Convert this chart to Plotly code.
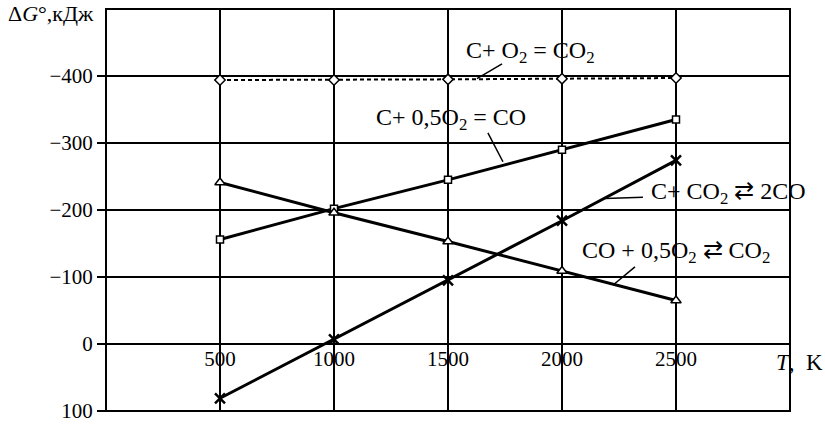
import plotly.graph_objects as go

# ---- data ----
T = [500, 1000, 1500, 2000, 2500]
dG_C_O2 = [-394, -394, -395, -396, -397]        # C + O2 = CO2
dG_C_halfO2 = [-156, -202, -245, -290, -335]    # C + 0,5O2 = CO
dG_CO_halfO2 = [-241, -196, -153, -109, -65]    # CO + 0,5O2 <-> CO2
dG_C_CO2 = [81, -7, -95, -184, -274]            # C + CO2 <-> 2CO

x_tick_vals = [500, 1000, 1500, 2000, 2500]
x_tick_text = ["500", "1000", "1500", "2000", "2500"]
y_tick_vals = [-400, -300, -200, -100, 0, 100]
y_tick_text = ["\u2212400", "\u2212300", "\u2212200", "\u2212100", "0", "100"]

labels = {
    "C_O2": "C+ O<sub>2</sub> = CO<sub>2</sub>",
    "C_halfO2": "C+ 0,5O<sub>2</sub> = CO",
    "C_CO2": "C+ CO<sub>2</sub> \u21c4 2CO",
    "CO_halfO2": "CO + 0,5O<sub>2</sub> \u21c4 CO<sub>2</sub>",
}

FONT = "Liberation Serif, Times New Roman, serif"
BLACK = "#000000"

fig = go.Figure()

fig.add_trace(go.Scatter(
    x=T, y=dG_C_O2, mode="lines+markers",
    line=dict(color=BLACK, width=2, dash="4px,3px"),
    marker=dict(symbol="diamond", size=8, color="white", line=dict(color=BLACK, width=1.5)),
))
fig.add_trace(go.Scatter(
    x=T, y=dG_C_halfO2, mode="lines+markers",
    line=dict(color=BLACK, width=3),
    marker=dict(symbol="square", size=7, color="white", line=dict(color=BLACK, width=1.5)),
))
fig.add_trace(go.Scatter(
    x=T, y=dG_CO_halfO2, mode="lines+markers",
    line=dict(color=BLACK, width=3),
    marker=dict(symbol="triangle-up", size=9, color="white", line=dict(color=BLACK, width=1.5)),
))
fig.add_trace(go.Scatter(
    x=T, y=dG_C_CO2, mode="lines+markers",
    line=dict(color=BLACK, width=3),
    marker=dict(symbol="x-thin", size=10, color=BLACK, line=dict(color=BLACK, width=2.5)),
))

# border of the plotting area
fig.add_shape(type="rect", xref="paper", yref="paper", x0=0, y0=0, x1=1, y1=1,
              line=dict(color=BLACK, width=2), layer="above")

# leader lines from labels to curves
leaders = [
    (1737, -418, 1627, -396),
    (1675, -315, 1741, -272),
    (2189, -217, 2355, -219),
    (2224, -88, 2320, -115),
]
for x0, y0, x1, y1 in leaders:
    fig.add_shape(type="line", xref="x", yref="y", x0=x0, y0=y0, x1=x1, y1=y1,
                  line=dict(color=BLACK, width=1.5))

label_pos = [
    ("C_O2", 1860, -436),
    ("C_halfO2", 1513, -336),
    ("C_CO2", 2732, -226),
    ("CO_halfO2", 2500, -137),
]
for key, x, y in label_pos:
    fig.add_annotation(x=x, y=y, xref="x", yref="y", text=labels[key], showarrow=False,
                       font=dict(family=FONT, size=24, color=BLACK),
                       xanchor="center", yanchor="middle", bgcolor="rgba(0,0,0,0)")

# axis titles
fig.add_annotation(x=0, y=1, xref="paper", yref="paper", text="\u0394<i>G</i>\u00b0,\u043a\u0414\u0436",
                   showarrow=False, xanchor="right", yanchor="top", xshift=-10, yshift=10,
                   font=dict(family=FONT, size=22, color=BLACK))
fig.add_annotation(x=1, y=0, xref="paper", yref="y", text="<i>T</i>,  K",
                   showarrow=False, xanchor="center", yanchor="top", yshift=-4, xshift=9,
                   font=dict(family=FONT, size=23, color=BLACK))

fig.update_layout(
    width=825, height=425,
    margin=dict(l=106, r=35, t=9, b=14),
    paper_bgcolor="white", plot_bgcolor="white",
    showlegend=False,
    font=dict(family=FONT, size=21, color=BLACK),
    xaxis=dict(
        range=[0, 3000],
        tickvals=x_tick_vals, ticktext=x_tick_text,
        showgrid=True, gridcolor=BLACK, gridwidth=2,
        zeroline=False, showline=False, ticks="",
        anchor="free", position=100 / 600,
        tickfont=dict(family=FONT, size=21, color=BLACK),
    ),
    yaxis=dict(
        range=[100, -500],
        tickvals=y_tick_vals, ticktext=y_tick_text,
        showgrid=True, gridcolor=BLACK, gridwidth=2,
        zeroline=False, showline=False,
        ticks="outside", ticklen=8, tickwidth=2, tickcolor=BLACK,
        tickfont=dict(family=FONT, size=21, color=BLACK),
        automargin=False,
    ),
)

fig.write_html("out.html")
